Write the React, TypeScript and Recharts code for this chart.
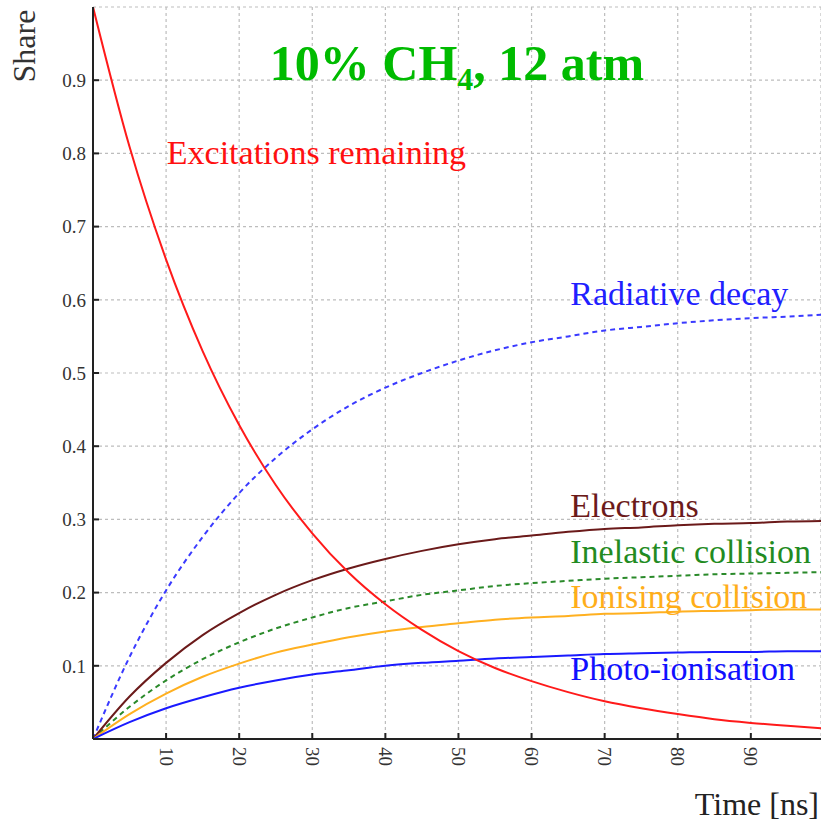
import React from 'react';
import { LineChart, Line, XAxis, YAxis, CartesianGrid, ReferenceDot } from 'recharts';

const times = [0, 5, 10, 15, 20, 25, 30, 35, 40, 45, 50, 55, 60, 65, 70, 75, 80, 85, 90, 95, 100];
const excitations = [1.0, 0.809, 0.655, 0.530, 0.429, 0.347, 0.281, 0.227, 0.184, 0.149, 0.120, 0.097, 0.079, 0.064, 0.0515, 0.042, 0.034, 0.027, 0.022, 0.018, 0.0145];
const radiative = [0, 0.112, 0.203, 0.276, 0.336, 0.384, 0.423, 0.455, 0.480, 0.500, 0.517, 0.531, 0.542, 0.550, 0.558, 0.563, 0.568, 0.572, 0.575, 0.577, 0.580];
const electrons = [0, 0.058, 0.104, 0.142, 0.172, 0.197, 0.217, 0.233, 0.246, 0.257, 0.266, 0.273, 0.278, 0.283, 0.287, 0.289, 0.292, 0.294, 0.295, 0.297, 0.298];
const inelastic = [0, 0.044, 0.080, 0.109, 0.132, 0.151, 0.166, 0.179, 0.188, 0.197, 0.203, 0.209, 0.213, 0.216, 0.219, 0.221, 0.223, 0.225, 0.226, 0.227, 0.228];
const ionising = [0, 0.034, 0.062, 0.085, 0.103, 0.118, 0.129, 0.139, 0.147, 0.153, 0.158, 0.163, 0.166, 0.168, 0.171, 0.172, 0.174, 0.175, 0.176, 0.177, 0.177];
const photo = [0, 0.023, 0.042, 0.057, 0.070, 0.080, 0.088, 0.094, 0.100, 0.104, 0.107, 0.110, 0.112, 0.114, 0.116, 0.117, 0.118, 0.119, 0.119, 0.120, 0.120];

const xTicks = [10, 20, 30, 40, 50, 60, 70, 80, 90];
const yTicks = [0.1, 0.2, 0.3, 0.4, 0.5, 0.6, 0.7, 0.8, 0.9];

const seriesLabels = [
  { text: 'Excitations remaining', x: 10.1, y: 0.785, color: '#ff1010' },
  { text: 'Radiative decay', x: 65.3, y: 0.593, color: '#2020ff' },
  { text: 'Electrons', x: 65.3, y: 0.303, color: '#6b1a1a' },
  { text: 'Inelastic collision', x: 65.3, y: 0.240, color: '#228b22' },
  { text: 'Ionising collision', x: 65.3, y: 0.179, color: '#ffae1a' },
  { text: 'Photo-ionisation', x: 65.3, y: 0.081, color: '#1010ff' },
];

const data = times.map((t, i) => ({
  t,
  exc: excitations[i],
  rad: radiative[i],
  ele: electrons[i],
  ine: inelastic[i],
  ion: ionising[i],
  pho: photo[i],
}));

const SERIF = '"Liberation Serif", "Times New Roman", serif';

const XTick = (props: any) => {
  const { x, y, payload } = props;
  return (
    <text
      x={x}
      y={y}
      transform={`rotate(90 ${x} ${y})`}
      textAnchor="start"
      dominantBaseline="central"
      fontFamily={SERIF}
      fontSize={19}
      fill="#333"
    >
      {payload.value}
    </text>
  );
};

const makeLabel = (text: string, color: string) => (props: any) => {
  const vb = props.viewBox || {};
  const x = (vb.x ?? 0) + (vb.width ?? 0) / 2;
  const y = (vb.y ?? 0) + (vb.height ?? 0) / 2;
  return (
    <text x={x} y={y} fill={color} fontFamily={SERIF} fontSize={34} textAnchor="start">
      {text}
    </text>
  );
};

const titleLabel = (props: any) => {
  const vb = props.viewBox || {};
  const x = (vb.x ?? 0) + (vb.width ?? 0) / 2;
  const y = (vb.y ?? 0) + (vb.height ?? 0) / 2;
  return (
    <text x={x} y={y} fill="#00bb00" fontFamily={SERIF} fontSize={50} fontWeight="bold" textAnchor="middle">
      <tspan>10% CH</tspan>
      <tspan fontSize={32} dy={10}>4</tspan>
      <tspan dy={-10}>, 12 atm</tspan>
    </text>
  );
};

export default function App() {
  return (
    <div style={{ position: 'absolute', left: 0, top: 0, width: 821, height: 822, background: '#fff' }}>
      <LineChart width={821} height={822} data={data} margin={{ top: 7, right: 0, bottom: 43, left: 33 }}>
        <CartesianGrid stroke="#bdbdbd" strokeDasharray="3 3" strokeWidth={1.2} />
        <XAxis
          dataKey="t"
          type="number"
          domain={[0, 99.6]}
          allowDataOverflow
          ticks={xTicks}
          height={40}
          tickSize={-6}
          tickMargin={14}
          tick={<XTick />}
          axisLine={{ stroke: '#222', strokeWidth: 2 }}
          tickLine={{ stroke: '#222', strokeWidth: 2 }}
        />
        <XAxis
          xAxisId="top"
          orientation="top"
          dataKey="t"
          type="number"
          domain={[0, 99.6]}
          allowDataOverflow
          ticks={xTicks}
          height={0}
          mirror
          tickSize={6}
          tickFormatter={() => ''}
          axisLine={{ stroke: '#333', strokeWidth: 2 }}
          tickLine={{ stroke: '#333', strokeWidth: 2 }}
        />
        <YAxis
          type="number"
          domain={[0, 1]}
          allowDataOverflow
          ticks={yTicks}
          width={60}
          tickSize={-6}
          tickMargin={13}
          tick={{ fontFamily: SERIF, fontSize: 19, fill: '#333' }}
          axisLine={{ stroke: '#222', strokeWidth: 2 }}
          tickLine={{ stroke: '#222', strokeWidth: 2 }}
        />
        <YAxis
          yAxisId="right"
          orientation="right"
          type="number"
          domain={[0, 1]}
          ticks={yTicks}
          width={0}
          mirror
          tickSize={6}
          tickFormatter={() => ''}
          axisLine={false}
          tickLine={{ stroke: '#222', strokeWidth: 2 }}
        />
        <Line type="monotone" dataKey="rad" stroke="#3a3aff" strokeWidth={2} strokeDasharray="5 4" dot={false} isAnimationActive={false} />
        <Line type="monotone" dataKey="ine" stroke="#2a8a2a" strokeWidth={2} strokeDasharray="5 4" dot={false} isAnimationActive={false} />
        <Line type="monotone" dataKey="ele" stroke="#6b1a1a" strokeWidth={2} dot={false} isAnimationActive={false} />
        <Line type="monotone" dataKey="ion" stroke="#ffb020" strokeWidth={2} dot={false} isAnimationActive={false} />
        <Line type="monotone" dataKey="pho" stroke="#1a1aff" strokeWidth={2} dot={false} isAnimationActive={false} />
        <Line type="monotone" dataKey="exc" stroke="#ff1a1a" strokeWidth={2} dot={false} isAnimationActive={false} />
        {seriesLabels.map((l) => (
          <ReferenceDot key={l.text} x={l.x} y={l.y} r={1} fill="none" stroke="none" label={makeLabel(l.text, l.color)} />
        ))}
        <ReferenceDot x={49.8} y={0.9} r={1} fill="none" stroke="none" label={titleLabel} />
      </LineChart>
      <svg width={821} height={822} style={{ position: 'absolute', left: 0, top: 0, pointerEvents: 'none' }}>
        <text
          transform="translate(35 46) rotate(-90)"
          textAnchor="middle"
          fontFamily={SERIF}
          fontSize={32}
          fill="#333"
        >
          Share
        </text>
        <text x={819} y={815} textAnchor="end" fontFamily={SERIF} fontSize={32} fill="#222">
          Time [ns]
        </text>
      </svg>
    </div>
  );
}
